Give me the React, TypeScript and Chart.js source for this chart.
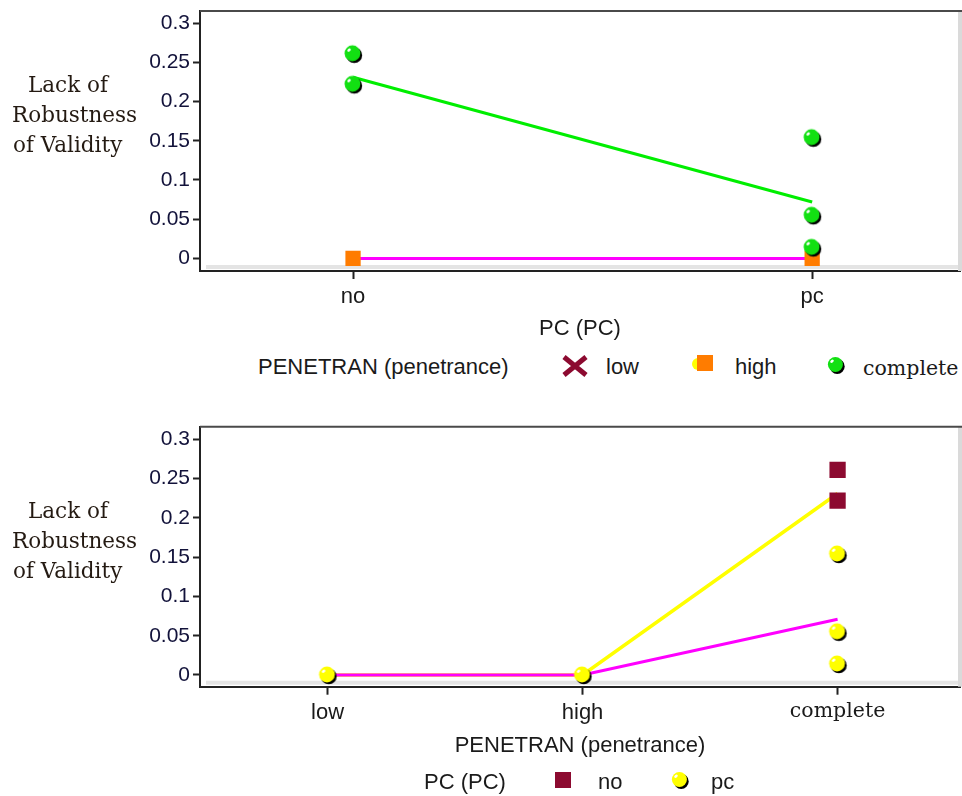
import React, { useEffect, useRef } from 'react';
import { Chart, registerables } from 'chart.js';

Chart.register(...registerables);

// Factor levels
const PC_LEVELS = ['no', 'pc'];
const PEN_LEVELS = ['low', 'high', 'complete'];
const Y_TICKS = [0, 0.05, 0.1, 0.15, 0.2, 0.25, 0.3];

// Observed lack-of-robustness values, penetrance = complete, by PC level
const COMPLETE_NO = [0.261, 0.222];
const COMPLETE_PC = [0.154, 0.055, 0.014];

// Observed values for penetrance = high, by PC level (upper panel)
const HIGH_BY_PC = [0, 0];

// Observed values for PC = pc at low / high penetrance (lower panel)
const PC_LOW = [0];
const PC_HIGH = [0];

// Cell means for the profile lines
const MEAN_COMPLETE_BY_PC = [0.231, 0.072];
const MEAN_LOWHIGH_BY_PC = [0, 0];
const MEAN_NO_BY_PEN = [0, 0, 0.231];
const MEAN_PC_BY_PEN = [0, 0, 0.071];

const SANS = '"Liberation Sans", Arial, sans-serif';
const SERIF = '"DejaVu Serif", "Liberation Serif", serif';

const GREEN = '#12e012';
const GREEN_LINE = '#00ee00';
const MAGENTA = '#ff00ff';
const YELLOW = '#ffff00';
const ORANGE = '#ff7c00';
const MAROON = '#8c0a30';
const TEXT = '#1a1a1a';

function makeBall(color: string): HTMLCanvasElement {
  const size = 22;
  const c = document.createElement('canvas');
  c.width = size;
  c.height = size;
  const g = c.getContext('2d')!;
  const cx = size / 2;
  const r = 7.9;
  g.fillStyle = '#000';
  g.beginPath();
  g.arc(cx + 1.2, cx + 1.4, r, 0, Math.PI * 2);
  g.fill();
  g.fillStyle = color;
  g.beginPath();
  g.arc(cx - 0.6, cx - 0.5, r, 0, Math.PI * 2);
  g.fill();
  g.fillStyle = '#ffffff';
  g.beginPath();
  g.ellipse(cx - 4, cx - 3.8, 2, 1.4, -0.7, 0, Math.PI * 2);
  g.fill();
  return c;
}

const framePlugin = {
  id: 'plotFrame',
  beforeDatasetsDraw(chart: any) {
    const { ctx, chartArea: a } = chart;
    ctx.save();
    ctx.fillStyle = '#e4e4e4';
    ctx.fillRect(a.left + 6, a.bottom - 6, a.right - a.left - 6, 4);
    ctx.fillStyle = '#dadada';
    ctx.fillRect(a.right - 2, a.top, 4, a.bottom - a.top);
    ctx.strokeStyle = '#4a4a4a';
    ctx.lineWidth = 2;
    ctx.beginPath();
    ctx.moveTo(a.left, a.top);
    ctx.lineTo(a.right + 2, a.top);
    ctx.stroke();
    ctx.restore();
  },
};

function baseOptions(
  cats: string[],
  xMin: number,
  xMax: number,
  yMin: number,
  yMax: number,
  xTitle: string,
  padTop: number,
  padBottom: number,
  axisH: number
): any {
  return {
    animation: false,
    responsive: false,
    devicePixelRatio: 1,
    events: [],
    layout: { autoPadding: false, padding: { left: 0, right: 2, top: padTop, bottom: padBottom } },
    plugins: { legend: { display: false }, tooltip: { enabled: false } },
    scales: {
      x: {
        type: 'linear',
        min: xMin,
        max: xMax,
        bounds: 'data',
        afterBuildTicks: (s: any) => {
          s.ticks = cats.map((_, i) => ({ value: i }));
        },
        afterFit: (s: any) => {
          s.height = axisH;
          s.paddingLeft = 0;
          s.paddingRight = 0;
        },
        ticks: {
          padding: 5,
          color: TEXT,
          autoSkip: false,
          maxRotation: 0,
          font: (ctx: any) =>
            cats[ctx.tick?.value] === 'complete'
              ? { family: SERIF, size: 20.5 }
              : { family: SANS, size: 22 },
          callback: (v: any) => cats[v] ?? '',
        },
        grid: {
          drawOnChartArea: false,
          drawTicks: true,
          tickLength: 8,
          tickColor: '#222',
          tickWidth: 2,
        },
        border: { display: true, color: '#222', width: 2 },
        title: {
          display: true,
          text: xTitle,
          color: TEXT,
          font: { family: SANS, size: 22 },
          padding: 0,
        },
      },
      y: {
        type: 'linear',
        min: yMin,
        max: yMax,
        bounds: 'data',
        afterBuildTicks: (s: any) => {
          s.ticks = Y_TICKS.map((v) => ({ value: v }));
        },
        afterFit: (s: any) => {
          s.width = 200;
          s.paddingTop = 0;
          s.paddingBottom = 0;
        },
        ticks: {
          padding: 3,
          color: '#12123a',
          font: { family: SANS, size: 21 },
          callback: (v: any) => String(Number(Number(v).toFixed(2))),
        },
        grid: {
          drawOnChartArea: false,
          drawTicks: true,
          tickLength: 7,
          tickColor: '#222',
          tickWidth: 2,
        },
        border: { display: true, color: '#222', width: 2 },
      },
    },
  };
}

function Txt(props: {
  x: number;
  base: number;
  serif?: boolean;
  size?: number;
  lh?: number;
  color?: string;
  children: React.ReactNode;
}) {
  const serif = !!props.serif;
  const size = props.size ?? (serif ? 20.5 : 22);
  const lh = props.lh ?? 26;
  const asc = serif ? 0.928 : 0.905;
  const desc = serif ? 0.236 : 0.212;
  const off = (lh - (asc + desc) * size) / 2 + asc * size;
  return (
    <div
      style={{
        position: 'absolute',
        left: props.x,
        top: props.base - off,
        fontFamily: serif ? SERIF : SANS,
        fontSize: size,
        lineHeight: lh + 'px',
        color: props.color ?? TEXT,
        whiteSpace: 'nowrap',
      }}
    >
      {props.children}
    </div>
  );
}

function Ball({ cx, cy, color }: { cx: number; cy: number; color: string }) {
  return (
    <svg width={22} height={22} style={{ position: 'absolute', left: cx - 11, top: cy - 11 }}>
      <circle cx={12.2} cy={12.4} r={7.5} fill="#000" />
      <circle cx={10.4} cy={10.5} r={7.5} fill={color} />
      <ellipse cx={7} cy={7.2} rx={2} ry={1.4} fill="#fff" transform="rotate(-40 7 7.2)" />
    </svg>
  );
}

function YTitle({ top }: { top: number }) {
  const lines: [string, number][] = [
    ['Lack of', 28],
    ['Robustness', 12],
    ['of Validity', 13],
  ];
  return (
    <>
      {lines.map(([t, x], i) => (
        <Txt key={t} x={x} base={top + i * 30} serif size={21.5} lh={30} color="#241a12">
          {t}
        </Txt>
      ))}
    </>
  );
}

export default function App() {
  const topRef = useRef<HTMLCanvasElement>(null);
  const botRef = useRef<HTMLCanvasElement>(null);

  useEffect(() => {
    const greenBall = makeBall(GREEN);
    const yellowBall = makeBall(YELLOW);

    // Upper panel: PC on the x axis, one profile per penetrance level
    const topChart = new Chart(topRef.current!, {
      type: 'scatter',
      data: {
        datasets: [
          {
            label: 'complete',
            data: [
              ...COMPLETE_NO.map((y) => ({ x: 0, y })),
              ...COMPLETE_PC.map((y) => ({ x: 1, y })),
            ],
            pointStyle: greenBall as any,
            pointRadius: 8,
            order: 0,
          },
          {
            label: 'high',
            data: HIGH_BY_PC.map((y, i) => ({ x: i, y })),
            pointStyle: 'rect',
            pointRadius: 10.8,
            backgroundColor: ORANGE,
            borderWidth: 0,
            order: 1,
          },
          {
            label: 'low / high mean',
            data: MEAN_LOWHIGH_BY_PC.map((y, i) => ({ x: i, y })),
            showLine: true,
            borderColor: MAGENTA,
            borderWidth: 3,
            pointRadius: 0,
            order: 2,
          },
          {
            label: 'complete mean',
            data: MEAN_COMPLETE_BY_PC.map((y, i) => ({ x: i, y })),
            showLine: true,
            borderColor: GREEN_LINE,
            borderWidth: 3,
            pointRadius: 0,
            order: 3,
          },
        ],
      } as any,
      options: baseOptions(PC_LEVELS, -1 / 3, 1.322, -0.0161, 0.3156, 'PC (PC)', 11, 8, 71),
      plugins: [framePlugin],
    });

    // Lower panel: penetrance on the x axis, one profile per PC level
    const botChart = new Chart(botRef.current!, {
      type: 'scatter',
      data: {
        datasets: [
          {
            label: 'pc',
            data: [
              ...PC_LOW.map((y) => ({ x: 0, y })),
              ...PC_HIGH.map((y) => ({ x: 1, y })),
              ...COMPLETE_PC.map((y) => ({ x: 2, y })),
            ],
            pointStyle: yellowBall as any,
            pointRadius: 8,
            order: 0,
          },
          {
            label: 'no',
            data: COMPLETE_NO.map((y) => ({ x: 2, y })),
            pointStyle: 'rect',
            pointRadius: 11.5,
            backgroundColor: MAROON,
            borderWidth: 0,
            order: 1,
          },
          {
            label: 'pc mean',
            data: MEAN_PC_BY_PEN.map((y, i) => ({ x: i, y })),
            showLine: true,
            borderColor: MAGENTA,
            borderWidth: 3,
            pointRadius: 0,
            order: 2,
          },
          {
            label: 'no mean',
            data: MEAN_NO_BY_PEN.map((y, i) => ({ x: i, y })),
            showLine: true,
            borderColor: YELLOW,
            borderWidth: 3.5,
            pointRadius: 0,
            order: 3,
          },
        ],
      } as any,
      options: baseOptions(PEN_LEVELS, -0.5, 2.48, -0.0149, 0.316, 'PENETRAN (penetrance)', 26.7, 37.3, 72),
      plugins: [framePlugin],
    });

    return () => {
      topChart.destroy();
      botChart.destroy();
    };
  }, []);

  return (
    <div
      style={{
        position: 'absolute',
        left: 0,
        top: 0,
        width: 962,
        height: 796,
        background: '#fff',
        overflow: 'hidden',
      }}
    >
      <canvas
        ref={topRef}
        width={962}
        height={350}
        style={{ position: 'absolute', left: 0, top: 0, width: 962, height: 350 }}
      />
      <canvas
        ref={botRef}
        width={962}
        height={396}
        style={{ position: 'absolute', left: 0, top: 400, width: 962, height: 396 }}
      />

      <YTitle top={92} />
      <YTitle top={518} />

      {/* Upper legend: penetrance */}
      <Txt x={258} base={375}>PENETRAN (penetrance)</Txt>
      <svg width={28} height={24} style={{ position: 'absolute', left: 561, top: 354 }}>
        <path d="M3 3 L25 21 M25 3 L3 21" stroke={MAROON} strokeWidth={5} strokeLinecap="butt" />
      </svg>
      <Txt x={606} base={375}>low</Txt>
      <svg width={24} height={20} style={{ position: 'absolute', left: 690, top: 354 }}>
        <circle cx={8} cy={10} r={6} fill={YELLOW} />
        <rect x={7} y={1} width={16} height={16} fill={ORANGE} />
      </svg>
      <Txt x={735} base={375}>high</Txt>
      <Ball cx={836} cy={365} color={GREEN} />
      <Txt x={863} base={375} serif>complete</Txt>

      {/* Lower legend: PC */}
      <Txt x={424} base={790}>PC (PC)</Txt>
      <svg width={16} height={16} style={{ position: 'absolute', left: 555, top: 772 }}>
        <rect x={0} y={0} width={16} height={16} fill={MAROON} />
      </svg>
      <Txt x={598} base={790}>no</Txt>
      <Ball cx={680} cy={780} color={YELLOW} />
      <Txt x={711} base={790}>pc</Txt>
    </div>
  );
}
